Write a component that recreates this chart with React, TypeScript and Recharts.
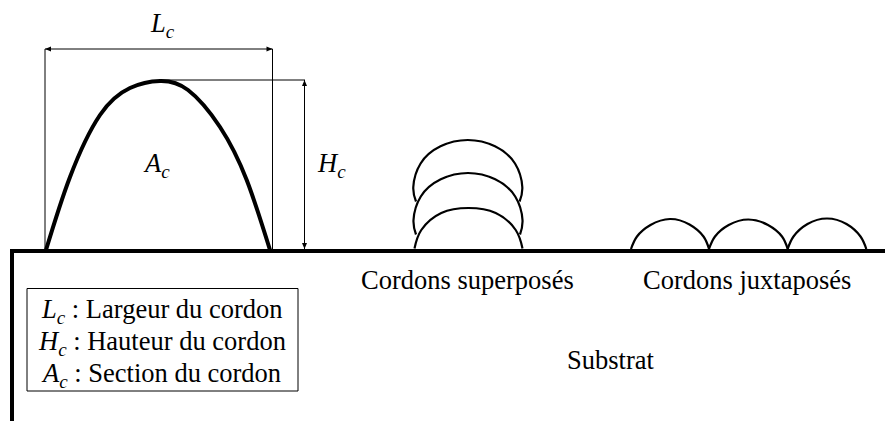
import { Line, LineChart, ReferenceDot, XAxis, YAxis } from "recharts";

// x = horizontal position, y = height above the substrate surface
type Pt = { x: number; y: number };
const pts = (raw: number[][]): Pt[] => raw.map(([x, y]) => ({ x, y }));

const substrate = pts([[10, 0], [885, 0]]);
const substrateEdge = pts([[12, 0], [12, -170]]);

const mainBead = pts([
  [46, 1], [70, 74], [100, 136], [130, 163], [160, 170], [188, 161], [220, 124], [246.7, 71], [270, 1],
]);

const widthGuideLeft = pts([[45, 0], [45, 202]]);
const widthGuideRight = pts([[272.5, 0], [272.5, 202]]);
const widthArrow = pts([[45, 202], [272.5, 202]]);
const heightGuide = pts([[160, 171], [305, 171]]);
const heightArrow = pts([[304.5, 171], [304.5, 2]]);

const stackBottom = pts([
  [414.5, 2.5], [421.3, 21], [441.3, 38], [468.5, 43], [495.7, 38], [515.7, 21], [522.5, 2.5],
]);
const stackMiddle = pts([
  [416, 16.5], [413.5, 31], [420.8, 54.5], [440.8, 71.7], [468, 78], [495.2, 71.7], [515.2, 54.5], [522.5, 31], [520, 16.5],
]);
const stackTop = pts([
  [416, 49.5], [413.3, 64], [420.6, 87.5], [440.5, 104.7], [467.8, 111], [495, 104.7], [515, 87.5], [522.3, 64], [519.6, 49.5],
]);

const sideOne = pts([[631, 2], [637, 14.5], [650.5, 26], [670, 32], [689.5, 26.5], [703.5, 14.5], [709, 2]]);
const sideTwo = pts([[709, 2], [715, 14.5], [728.7, 26], [748.3, 31.5], [768, 26], [782, 14.5], [787.7, 2]]);
const sideThree = pts([[787.7, 2], [793.5, 14.5], [807.5, 27], [827, 32.5], [846.5, 27], [860.5, 14.5], [866.3, 2]]);

const legendBox = pts([[27, -37.5], [298, -37.5], [298, -140], [27, -140], [27, -37.5]]);

const textLabels = [
  { x: 151, y: 219, main: "L", sub: "c", rest: "" },
  { x: 145, y: 79, main: "A", sub: "c", rest: "" },
  { x: 318, y: 79, main: "H", sub: "c", rest: "" },
  { x: 42, y: -67, main: "L", sub: "c", rest: " : Largeur du cordon" },
  { x: 39, y: -99, main: "H", sub: "c", rest: " : Hauteur du cordon" },
  { x: 43, y: -131, main: "A", sub: "c", rest: " : Section du cordon" },
  { x: 361, y: -38, main: "", sub: "", rest: "Cordons superposés" },
  { x: 643, y: -38, main: "", sub: "", rest: "Cordons juxtaposés" },
  { x: 567, y: -118, main: "", sub: "", rest: "Substrat" },
];

const SERIF = '"Liberation Serif", "Times New Roman", serif';
const FONT_SIZE = 26.5;

function Label({ cx, cy, item }: any) {
  return (
    <text x={cx} y={cy} fontFamily={SERIF} fontSize={FONT_SIZE} fill="#000" xmlSpace="preserve">
      {item.main ? <tspan fontStyle="italic">{item.main}</tspan> : null}
      {item.sub ? (
        <tspan fontStyle="italic" fontSize={FONT_SIZE * 0.72} dy={6}>
          {item.sub}
        </tspan>
      ) : null}
      {item.rest ? <tspan dy={item.sub ? -6 : 0}>{item.rest}</tspan> : null}
    </text>
  );
}

function arrowDot(vertical: boolean) {
  return (props: any) => {
    const { cx, cy, index, key } = props;
    const s = index === 0 ? 1 : -1;
    // tip sits on the end point of the line, base points back along it
    const d = vertical
      ? `M${cx},${cy} L${cx - 2.5},${cy + s * 6} L${cx + 2.5},${cy + s * 6} Z`
      : `M${cx},${cy} L${cx + s * 6},${cy - 2.5} L${cx + s * 6},${cy + 2.5} Z`;
    return <path key={key ?? index} d={d} fill="#000" stroke="none" />;
  };
}

function Curve({ data, width, type = "linear", dot = false }: any) {
  return (
    <Line
      data={data}
      dataKey="y"
      type={type}
      stroke="#000"
      strokeWidth={width}
      dot={dot}
      activeDot={false}
      legendType="none"
      isAnimationActive={false}
    />
  );
}

export default function App() {
  return (
    <div style={{ position: "absolute", left: 0, top: 0, width: 885, height: 421, background: "#fff" }}>
      <LineChart width={885} height={421} margin={{ top: 0, right: 0, bottom: 0, left: 0 }}>
        <XAxis type="number" dataKey="x" domain={[0, 885]} hide />
        <YAxis type="number" domain={[-170, 251]} hide />
        {Curve({ data: widthGuideLeft, width: 1 })}
        {Curve({ data: widthGuideRight, width: 1 })}
        {Curve({ data: heightGuide, width: 1 })}
        {Curve({ data: widthArrow, width: 1, dot: arrowDot(false) })}
        {Curve({ data: heightArrow, width: 1, dot: arrowDot(true) })}
        {Curve({ data: legendBox, width: 1 })}
        {Curve({ data: mainBead, width: 4, type: "natural" })}
        {Curve({ data: stackBottom, width: 2.2, type: "natural" })}
        {Curve({ data: stackMiddle, width: 2.2, type: "natural" })}
        {Curve({ data: stackTop, width: 2.2, type: "natural" })}
        {Curve({ data: sideOne, width: 2.2, type: "natural" })}
        {Curve({ data: sideTwo, width: 2.2, type: "natural" })}
        {Curve({ data: sideThree, width: 2.2, type: "natural" })}
        {Curve({ data: substrate, width: 4 })}
        {Curve({ data: substrateEdge, width: 4 })}
        {textLabels.map((item) => (
          <ReferenceDot
            key={item.main + item.rest + item.x}
            x={item.x}
            y={item.y}
            r={0}
            ifOverflow="visible"
            shape={(p: any) => <Label cx={p.cx} cy={p.cy} item={item} />}
          />
        ))}
      </LineChart>
    </div>
  );
}
